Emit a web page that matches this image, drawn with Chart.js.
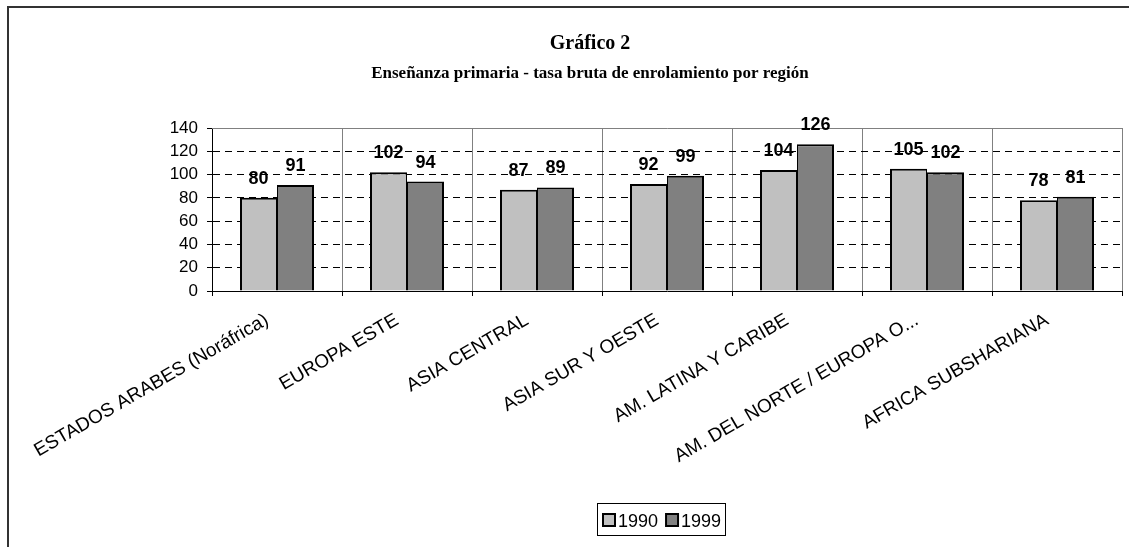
<!DOCTYPE html>
<html><head><meta charset="utf-8">
<script src="https://cdn.jsdelivr.net/npm/chart.js@4.4.0/dist/chart.umd.min.js"></script>
<style>html,body{margin:0;padding:0;background:#fff;overflow:hidden}#wrap{width:1129px;height:547px}</style>
</head><body><div id="wrap"><canvas id="c" width="1129" height="547"></canvas></div>
<script>
const titleLines = ['Gráfico 2', 'Enseñanza primaria - tasa bruta de enrolamiento por región'];
const categories = ['ESTADOS ARABES (Noráfrica)', 'EUROPA ESTE', 'ASIA CENTRAL', 'ASIA SUR Y OESTE', 'AM. LATINA Y CARIBE', 'AM. DEL NORTE / EUROPA O...', 'AFRICA SUBSHARIANA'];
const seriesNames = ['1990', '1999'];
const values1990 = [80, 102, 87, 92, 104, 105, 78];
const values1999 = [91, 94, 89, 99, 126, 102, 81];
const yTicks = [0, 20, 40, 60, 80, 100, 120, 140];
const seriesColors = ['#C0C0C0', '#808080'];

const SANS = '"Liberation Sans", Arial, sans-serif';
const SERIF = '"Liberation Serif", "Times New Roman", serif';

const decor = {
  id: 'decor',
  beforeDraw(chart) {
    const ctx = chart.ctx;
    ctx.save();
    ctx.fillStyle = '#fff';
    ctx.fillRect(0, 0, chart.width, chart.height);
    ctx.restore();
  },
  beforeDatasetsDraw(chart) {
    const ctx = chart.ctx, a = chart.chartArea;
    ctx.save();
    ctx.strokeStyle = '#808080';
    ctx.lineWidth = 1;
    ctx.beginPath();
    ctx.moveTo(a.left, Math.round(a.top) + 0.5);
    ctx.lineTo(a.right + 0.5, Math.round(a.top) + 0.5);
    ctx.lineTo(a.right + 0.5, a.bottom);
    ctx.stroke();
    ctx.restore();
  },
  afterDraw(chart) {
    const ctx = chart.ctx, a = chart.chartArea;
    ctx.save();
    // outer frame
    ctx.strokeStyle = '#333';
    ctx.lineWidth = 2;
    ctx.strokeRect(8, 7, 1400, 800);
    // title
    ctx.fillStyle = '#000';
    ctx.textAlign = 'center';
    ctx.textBaseline = 'alphabetic';
    ctx.font = 'bold 20px ' + SERIF;
    ctx.fillText(titleLines[0], 590, 49);
    ctx.font = 'bold 17px ' + SERIF;
    ctx.fillText(titleLines[1], 590, 78);
    // data labels
    ctx.font = 'bold 18px ' + SANS;
    chart.data.datasets.forEach((ds, di) => {
      const meta = chart.getDatasetMeta(di);
      meta.data.forEach((el, i) => {
        ctx.fillText(String(ds.data[i]), el.x, el.y - 14);
      });
    });
    // legend
    ctx.font = '18px ' + SANS;
    ctx.textAlign = 'left';
    const sq = 12, padL = 6, gapT = 3, gapI = 8, padR = 4;
    const widths = seriesNames.map(n => ctx.measureText(n).width);
    let total = padL + padR;
    widths.forEach((w, i) => { total += sq + gapT + w + (i < widths.length - 1 ? gapI : 0); });
    const cx = (a.left + a.right) / 2 - 6;
    const bx = Math.round(cx - total / 2), by = 503, bh = 32;
    ctx.strokeStyle = '#000';
    ctx.lineWidth = 1;
    ctx.strokeRect(bx + 0.5, by + 0.5, Math.round(total), bh);
    let x = bx + padL;
    seriesNames.forEach((n, i) => {
      ctx.fillStyle = seriesColors[i];
      ctx.fillRect(x, by + 11, sq, sq);
      ctx.lineWidth = 2;
      ctx.strokeStyle = '#000';
      ctx.strokeRect(x, by + 11, sq, sq);
      ctx.fillStyle = '#000';
      ctx.fillText(n, x + sq + gapT, by + 24);
      x += sq + gapT + widths[i] + gapI;
    });
    ctx.restore();
  }
};

new Chart(document.getElementById('c'), {
  type: 'bar',
  data: {
    labels: categories,
    datasets: [
      { label: seriesNames[0], data: values1990, backgroundColor: seriesColors[0], borderColor: '#000',
        borderWidth: { top: 2, left: 2, right: 1, bottom: 0 }, borderSkipped: 'start' },
      { label: seriesNames[1], data: values1999, backgroundColor: seriesColors[1], borderColor: '#000',
        borderWidth: { top: 2, left: 1, right: 2, bottom: 0 }, borderSkipped: 'start' }
    ]
  },
  options: {
    responsive: false,
    animation: false,
    devicePixelRatio: 1,
    layout: { padding: { left: 150, right: 7, top: 128, bottom: 0 } },
    categoryPercentage: 74 / 130,
    barPercentage: 1,
    plugins: { legend: { display: false }, title: { display: false }, tooltip: { enabled: false } },
    scales: {
      x: {
        type: 'category',
        offset: true,
        afterFit(s) { s.height = 256; },
        grid: { offset: true, color: '#808080', lineWidth: 1, tickLength: 5, tickColor: '#000', tickWidth: 1, tickBorderDash: [] },
        border: { display: true, color: '#000', width: 1 },
        ticks: { autoSkip: false, minRotation: 30, maxRotation: 30, padding: 13, labelOffset: -10,
          font: { family: SANS, size: 19 }, color: '#000' }
      },
      y: {
        min: 0, max: 140,
        afterFit(s) { s.width = 62; },
        afterBuildTicks(s) { s.ticks = yTicks.map(v => ({ value: v })); },
        grid: { color: '#000', lineWidth: 1, tickLength: 5, tickColor: '#000', tickWidth: 1, tickBorderDash: [] },
        border: { display: true, color: '#000', width: 1, dash: [7, 5] },
        ticks: { autoSkip: false, stepSize: 20, padding: 9, font: { family: SANS, size: 17 }, color: '#000' }
      }
    }
  },
  plugins: [decor]
});
</script>
</body></html>
